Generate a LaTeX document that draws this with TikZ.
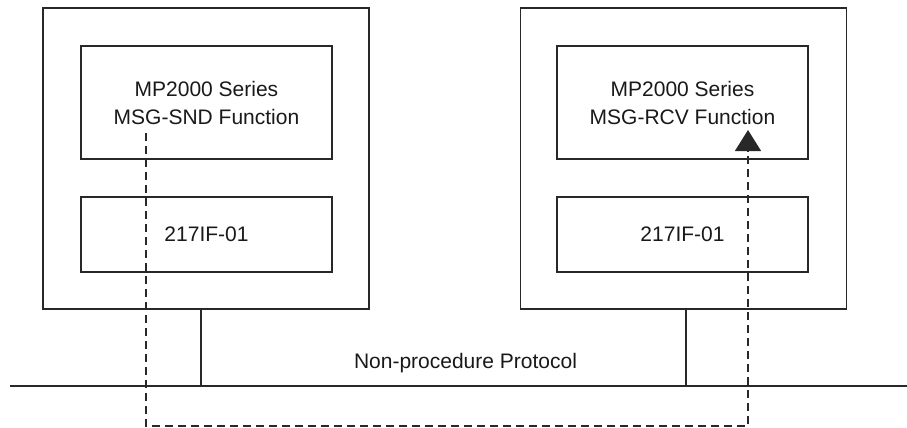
\documentclass[tikz,border=0pt]{standalone}
\usepackage{fontspec}
\setmainfont{Liberation Sans}
\usepackage{tikz}
\usetikzlibrary{arrows.meta,positioning}
\definecolor{linegray}{RGB}{40,40,40}
\tikzset{
  unitbox/.style={rectangle, draw=linegray, line width=1.2pt, inner sep=0pt,
                  minimum width=326pt, minimum height=301pt},
  funcbox/.style={rectangle, draw=linegray, line width=1.2pt, align=center,
                  inner sep=0pt, minimum width=251pt, minimum height=113pt,
                  font=\fontsize{21}{28}\selectfont, text=black!90},
  ifbox/.style={funcbox, minimum height=75pt},
  busline/.style={draw=linegray, line width=2.3pt},
  dataflow/.style={draw=linegray, line width=1.2pt, dash pattern=on 8pt off 5pt,
                   -{Triangle[length=21pt, width=26pt]}},
  lbl/.style={font=\fontsize{21}{28}\selectfont, text=black!90},
}
\begin{document}
\begin{tikzpicture}[x=1pt, y=-1pt]
  \useasboundingbox (0,0) rectangle (907,428);
  % sender side
  \node[unitbox] (sndpc) at (206,158.5) {};
  \node[funcbox] (sndfn) at (206.5,102.5) {MP2000 Series\\MSG-SND Function};
  \node[ifbox] (sndif) at (206.5,234.5) {217IF-01};
  % receiver side
  \node[unitbox, right=150pt of sndpc] (rcvpc) {};
  \node[funcbox] (rcvfn) at (682.5,102.5) {MP2000 Series\\MSG-RCV Function};
  \node[ifbox] (rcvif) at (682.5,234.5) {217IF-01};
  % network
  \coordinate (busL) at (10,386);
  \coordinate (busR) at (907,386);
  \coordinate (tapL) at (201,386);
  \coordinate (tapR) at (686,386);
  \draw[busline] (busL) -- (busR);
  \draw[busline] (tapL |- sndpc.south) -- (tapL);
  \draw[busline] (tapR |- rcvpc.south) -- (tapR);
  \node[lbl] (proto) at (465.5,363) {Non-procedure Protocol};
  % message path
  \coordinate (sndpt) at (146,133);
  \coordinate (rcvpt) at (748,130);
  \coordinate (loopbot) at (146,426);
  \draw[dataflow] (sndpt) -- (loopbot) -| (rcvpt);
\end{tikzpicture}
\end{document}
